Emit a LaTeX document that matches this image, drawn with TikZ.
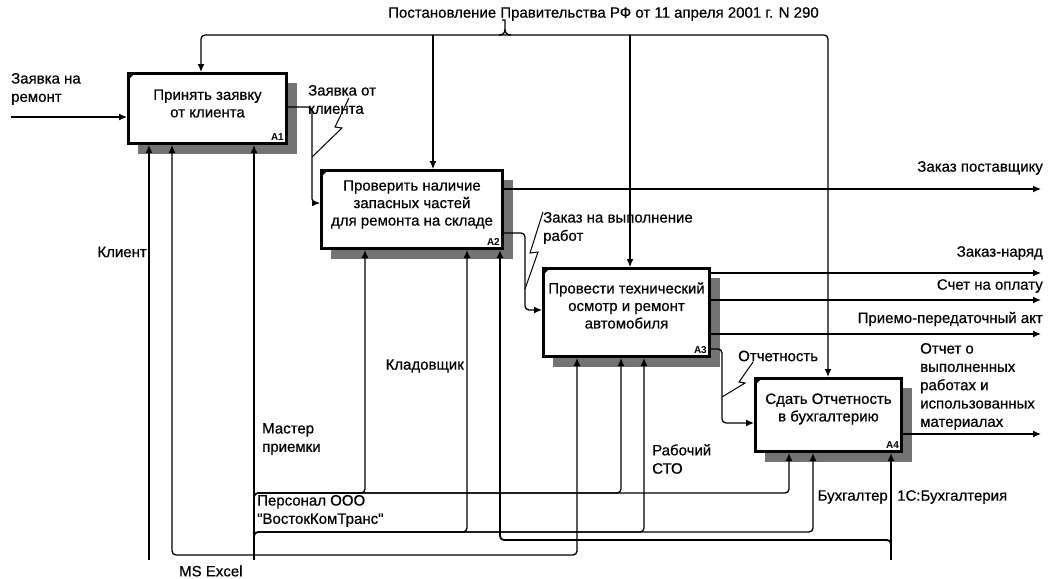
\documentclass[tikz,border=0pt]{standalone}
\usepackage{fontspec}
\setmainfont{Liberation Sans}
\newfontfamily\diagfont{Liberation Sans}[FakeBold=0.5]
\usetikzlibrary{arrows.meta,shadows,calc}
\begin{document}
\begin{tikzpicture}[x=1pt,y=-1pt,
  conn/.style={line width=1.3pt},
  arr/.style={conn,-{Latex[length=8pt,width=7pt]}},
  rcorner/.style={rounded corners=4pt},
  leader/.style={line width=1pt},
  func/.style={draw, line width=2.8pt, fill=white, inner sep=0pt, anchor=north west,
    general shadow={fill=black!55, shadow xshift=10pt, shadow yshift=-10pt}},
  ftext/.style={align=center, font=\diagfont\fontsize{15}{17.5}\selectfont, inner sep=0pt},
  lbl/.style={align=left, font=\diagfont\fontsize{15}{18.3}\selectfont, inner sep=0pt},
  fid/.style={font=\bfseries\fontsize{10}{12}\selectfont, inner sep=0pt, anchor=south east},
]
\useasboundingbox[fill=white] (0,0) rectangle (1048,578);

% ---- activity boxes ----
\node[func, minimum width=158.2pt, minimum height=70.2pt] (A1) at (127,72) {};
\node[func, minimum width=181.2pt, minimum height=78.2pt] (A2) at (320,169) {};
\node[func, minimum width=166.2pt, minimum height=88.2pt] (A3) at (542,267) {};
\node[func, minimum width=146.2pt, minimum height=73.2pt] (A4) at (754,377) {};

\foreach \b in {A1,A2,A3,A4}{
  \fill (\b.north west) -- ++(9,0) -- ++(-9,9) -- cycle;
}

\node[ftext] (A1t) at ($(A1.center)+(0,-5)$) {Принять заявку\\от клиента};
\node[ftext] (A2t) at ($(A2.center)+(0,-5)$) {Проверить наличие\\запасных частей\\для ремонта на складе};
\node[ftext] (A3t) at ($(A3.center)+(0,-7)$) {Провести технический\\осмотр и ремонт\\автомобиля};
\node[ftext] (A4t) at ($(A4.center)+(0,-6)$) {Сдать Отчетность\\в бухгалтерию};

\node[fid] (A1id) at ($(A1.south east)+(-4,-4)$) {A1};
\node[fid] (A2id) at ($(A2.south east)+(-4,-4)$) {A2};
\node[fid] (A3id) at ($(A3.south east)+(-4,-4)$) {A3};
\node[fid] (A4id) at ($(A4.south east)+(-4,-4)$) {A4};

% ---- control ----
\node[lbl, anchor=west] (ctltxt) at (388,14) {Постановление Правительства РФ от 11 апреля 2001 г. N 290};
\coordinate (ctl) at (505,35);
\coordinate (c1) at (201,35);
\coordinate (c2) at (433,35);
\coordinate (c3) at (630,35);
\coordinate (c4) at (828,35);
\draw[arr, rcorner] (ctl) -| (A1.north -| c1);
\draw[arr, rcorner] (ctl) -| (A4.north -| c4);
\draw[arr] (c2) -- (A2.north -| c2);
\draw[arr] (c3) -- (A3.north -| c3);
\draw[conn] (499,35) .. controls (503,35) and (505,33) .. (505,29)
            (511,35) .. controls (507,35) and (505,33) .. (505,29)
            (505,29) -- (505,20) -- (502,20);

% ---- input ----
\coordinate (in1) at (11,117);
\node[lbl, anchor=west] (in1t) at (11,89) {Заявка на\\ремонт};
\draw[arr] (in1) -- (A1.west |- in1);

% ---- A1 -> A2 ----
\coordinate (o1) at (312,107);
\draw[arr, rcorner] (A1.east |- o1) -- (o1) |- (A2.west |- 0,203);
\node[lbl, anchor=west] (o1t) at (308,99.5) {Заявка от\\клиента};
\draw[leader] (349,98) -- (335,127) -- (342,128) -- (312,157);

% ---- A2 outputs ----
\coordinate (o2) at (1041,189);
\draw[arr] (A2.east |- o2) -- (o2);
\node[lbl, anchor=east] (o2t) at (1043,168) {Заказ поставщику};

\coordinate (o3) at (525,270);
\draw[arr, rcorner] (A2.east |- 0,233) -| (o3) |- (A3.west |- 0,310);
\node[lbl, anchor=west] (o3t) at (543,228) {Заказ на выполнение\\работ};
\draw[leader] (543,212) -- (530,253) -- (538,252) -- (525,289);

% ---- A3 outputs ----
\coordinate (o4) at (1041,273);
\coordinate (o5) at (1041,300);
\coordinate (o6) at (1041,334);
\draw[arr] (A3.east |- o4) -- (o4);
\draw[arr] (A3.east |- o5) -- (o5);
\draw[arr] (A3.east |- o6) -- (o6);
\node[lbl, anchor=east] (o4t) at (1043,253) {Заказ-наряд};
\node[lbl, anchor=east] (o5t) at (1043,286) {Счет на оплату};
\node[lbl, anchor=east] (o6t) at (1043,319) {Приемо-передаточный акт};

\coordinate (o7) at (722,390);
\draw[arr, rcorner] (A3.east |- 0,349) -| (o7) |- (A4.west |- 0,423);
\node[lbl, anchor=west] (o7t) at (738,356) {Отчетность};
\draw[leader] (753,362) -- (739,382) -- (745,383) -- (722,397);

% ---- A4 output ----
\coordinate (o8) at (1041,434);
\draw[arr] (A4.east |- o8) -- (o8);
\node[lbl, anchor=west] (o8t) at (920,386.5) {Отчет о\\выполненных\\работах и\\использованных\\материалах};

% ---- mechanisms ----
\coordinate (m1) at (149,560);
\draw[arr] (m1) -- (A1.south -| m1);
\node[lbl, anchor=east] (m1t) at (147,252) {Клиент};

\coordinate (m2) at (254,560);
\draw[arr] (m2) -- (A1.south -| m2);
\node[lbl, anchor=west] (m2t) at (262,439) {Мастер\\приемки};

% MS Excel
\coordinate (xl) at (254,555);
\draw[arr, rcorner] (xl) -| (A1.south -| 172,0);
\draw[arr, rcorner] (xl) -| (A3.south -| 577,0);
\node[lbl, anchor=west] (xlt) at (179,571) {MS Excel};

% staff line
\coordinate (p0) at (254,499);
\coordinate (p1) at (365,493);
\coordinate (p2) at (621,493);
\coordinate (p3) at (789,493);
\draw[arr, rcorner] (p0) |- (p1) -- (A2.south -| p1);
\draw[arr, rcorner] (p0) |- (p2) -- (A3.south -| p2);
\draw[arr, rcorner] (p0) |- (p3) -- (A4.south -| p3);
\node[lbl, anchor=west] (p0t) at (257,511) {Персонал ООО\\"ВостокКомТранс"};

\coordinate (q0) at (254,538);
\coordinate (q1) at (467,532);
\coordinate (q2) at (644,532);
\coordinate (q3) at (813,532);
\draw[arr, rcorner] (q0) |- (q1) -- (A2.south -| q1);
\draw[arr, rcorner] (q0) |- (q2) -- (A3.south -| q2);
\draw[arr, rcorner] (q0) |- (q3) -- (A4.south -| q3);
\node[lbl, anchor=east] (q1t) at (464,366) {Кладовщик};
\node[lbl, anchor=west] (q2t) at (652,459) {Рабочий\\СТО};
\node[lbl, anchor=east] (q3t) at (888,497) {Бухгалтер};

% accounting software
\coordinate (s0) at (891,560);
\coordinate (s1) at (891,546);
\coordinate (s2) at (500,540);
\draw[arr] (s0) -- (A4.south -| s0);
\draw[arr, rcorner, line width=1.8pt] (s1) |- (s2) -- (A2.south -| s2);
\node[lbl, anchor=west] (s0t) at (897,497) {1С:Бухгалтерия};

\end{tikzpicture}
\end{document}
